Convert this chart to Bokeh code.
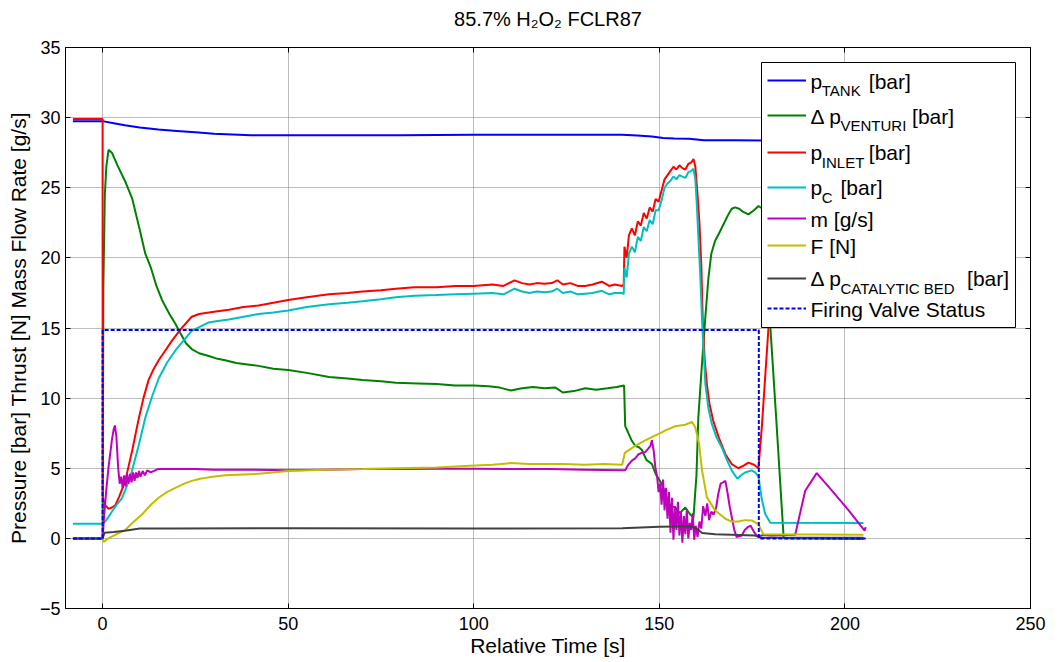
from bokeh.plotting import figure
from bokeh.models import (FixedTicker, Legend, LegendItem, Label, Range1d, LinearAxis,
                          BoxAnnotation, Title)
from bokeh.core.properties import value
from bokeh.embed import file_html
from bokeh.resources import INLINE

FONT = "Liberation Sans"

title_text = "85.7% H\u2082O\u2082 FCLR87"
x_label = "Relative Time [s]"
y_label = "Pressure [bar] Thrust [N] Mass Flow Rate [g/s]"
x_ticks = [0, 50, 100, 150, 200, 250]
y_ticks = [-5, 0, 5, 10, 15, 20, 25, 30, 35]

# ---- p_TANK [bar]
t_tank = [-8, 0, 3, 6, 10, 15, 20, 25, 30, 35, 40, 50, 60, 80, 100, 120, 140, 144,
          148, 151, 154, 158, 162, 170, 180, 205]
p_tank = [29.75, 29.75, 29.6, 29.45, 29.3, 29.15, 29.05, 28.95, 28.85, 28.8, 28.75,
          28.75, 28.75, 28.75, 28.78, 28.78, 28.78, 28.72, 28.65, 28.55, 28.52, 28.5,
          28.38, 28.38, 28.36, 28.35]

# ---- delta p VENTURI [bar]
t_venturi = [-8, 0, 0.2, 0.6, 1.0, 1.6, 2.5, 4, 6, 8,
             10, 11.5, 13, 14.5, 16, 18, 19.6, 21, 22.5, 24,
             26, 28.6, 31, 33, 36, 39, 42, 46, 50, 55,
             61, 66, 70, 75, 79, 85, 90, 95, 100, 104,
             107, 110, 113, 116, 119, 122, 124, 127, 130, 133,
             136, 138.5, 140.5, 140.8, 141.5, 142.5, 143.5, 144.5, 145.3, 146.5,
             148, 149, 150.6, 152, 153, 154.3, 155.5, 157, 158.3, 159.2,
             160.0, 160.5, 161.5, 162.4, 163.2, 164, 165, 166, 167.3, 168.6,
             169.5, 170.4, 171.5, 172.5, 174, 175.5, 176.7, 177.8, 179.9, 181.5,
             183.5, 205]
dp_venturi = [0, 0, 18, 24.5, 26.5, 27.7, 27.5, 26.6, 25.5, 24.2,
              22.0, 20.3, 19.3, 18.0, 17.0, 16.0, 15.3, 14.6, 13.9, 13.5,
              13.2, 13.0, 12.8, 12.7, 12.5, 12.4, 12.3, 12.1, 12.0, 11.8,
              11.5, 11.4, 11.3, 11.2, 11.1, 11.05, 11.0, 10.9, 10.9, 10.85,
              10.75, 10.55, 10.7, 10.8, 10.7, 10.75, 10.4, 10.5, 10.7, 10.6,
              10.7, 10.8, 10.9, 8.0, 7.6, 7.0, 6.6, 6.5, 6.3, 5.6,
              5.3, 4.6, 3.9, 2.9, 2.3, 2.2, 1.8, 2.2, 1.7, 1.5,
              4.5, 8.6, 12.5, 15.8, 18.5, 20.3, 21.2, 21.7, 22.4, 23.1,
              23.5, 23.6, 23.5, 23.3, 23.1, 23.4, 23.7, 23.5, 15.1, 8.5,
              0.0, -0.05]

# ---- p_INLET [bar]
t_inlet = [-8, 0, 0.01, 0.6, 1.6, 2.5, 3.4, 4.5, 6.1, 8,
           9.7, 11, 12.4, 13.8, 15.1, 16.9, 18.7, 21, 24, 26,
           28.6, 31, 34, 38, 42, 46, 50, 55, 61, 66,
           70, 75, 79, 84, 90, 95, 100, 105, 108, 111,
           113, 115, 117, 119, 121, 122.5, 124, 126, 128, 130,
           132, 134.5, 136.5, 138, 140, 140.4,
           140.6, 141.2, 141.8, 142.6, 143.4, 144.2, 145.0, 145.8, 146.6, 147.4,
           148.2, 149.0, 149.8, 150.6, 151.4, 152.2, 153.0, 153.8, 154.6, 155.4,
           156.2, 157.0, 157.8, 158.6, 159.2, 159.7, 160.3, 160.8, 161.3, 161.7,
           162.2, 162.8, 163.5, 164.5, 166, 167.8, 169.5, 171.3, 172.8, 174,
           175.5, 176.7, 177.6, 179.4, 181, 182.8, 185, 205]
p_inlet = [29.9, 29.9, 3.0, 2.4, 2.1, 2.2, 2.35, 3.0, 4.1, 6.3,
           8.5, 10.0, 11.3, 12.1, 12.7, 13.4, 14.1, 14.9, 15.8, 16.0,
           16.1, 16.2, 16.3, 16.5, 16.6, 16.8, 17.0, 17.2, 17.4, 17.5,
           17.6, 17.7, 17.8, 17.9, 17.9, 18.0, 18.0, 18.1, 18.0, 18.4,
           18.2, 18.1, 18.2, 18.15, 18.2, 18.4, 18.1, 18.2, 18.0, 18.0,
           18.1, 18.3, 18.0, 18.1, 18.0, 18.1,
           20.8, 20.0, 21.6, 22.1, 21.6, 22.6, 22.3, 23.2, 22.8, 23.6,
           23.3, 24.2, 24.0, 24.8, 25.6, 25.9, 26.2, 26.5, 26.3, 26.6,
           26.4, 26.3, 26.7, 26.8, 27.05, 26.5, 24.5, 22.5, 19.5, 15.5,
           12.8, 11.0, 9.6, 8.4, 7.2, 6.0, 5.3, 5.0, 5.2, 5.4,
           5.25, 5.0, 7.9, 15.0, 21.5, 28.2, 28.4, 28.4]

# ---- p_C [bar]
t_pc = [-8, 0, 0.7, 1.5, 2.5, 3.8, 5.2, 6.5, 7.9, 9.7,
        11.5, 13.3, 15.1, 17.3, 19.6, 21.8, 24, 26.3, 28.6, 31,
        34, 38, 42, 46, 50, 55, 61, 66, 70, 75,
        79, 84, 90, 95, 100, 105, 108, 111, 113, 115,
        117, 119, 121, 122.5, 124, 126, 128, 130, 132, 134.5,
        136.5, 138, 140, 140.4,
        140.6, 141.2, 141.8, 142.6, 143.4, 144.2, 145.0, 145.8, 146.6, 147.4,
        148.2, 149.0, 149.8, 150.6, 151.4, 152.2, 153.0, 153.8, 154.6, 155.4,
        156.2, 157.0, 157.8, 158.6, 159.2, 159.7, 160.1, 160.6, 161.0, 161.6,
        162.4, 163.2, 164.1, 165.4, 166.8, 168.2, 169.5, 171, 172, 173.1,
        174.9, 175.8, 176.7, 177.6, 178.5, 179.9, 205]
p_c = [1.05, 1.05, 1.2, 1.5, 1.9, 2.4, 2.85, 3.7, 4.8, 6.6,
       8.6, 10.1, 11.4, 12.5, 13.4, 14.1, 14.8, 15.1, 15.4, 15.5,
       15.6, 15.8, 16.0, 16.1, 16.25, 16.5, 16.7, 16.8, 16.9, 17.05,
       17.2, 17.3, 17.35, 17.4, 17.45, 17.5, 17.4, 17.8, 17.6, 17.5,
       17.6, 17.55, 17.6, 17.8, 17.5, 17.6, 17.4, 17.45, 17.5, 17.65,
       17.4, 17.5, 17.5, 17.4,
       19.3, 18.6, 20.3, 20.8, 20.4, 21.5, 21.2, 22.2, 21.9, 22.7,
       22.4, 23.4, 23.4, 24.1, 25.0, 25.3, 25.5, 25.8, 25.6, 25.9,
       25.8, 25.7, 26.1, 26.2, 26.35, 25.6, 23.8, 21.0, 18.9, 15.0,
       11.0, 9.3, 8.2, 7.2, 6.5, 5.6, 4.85, 4.25, 4.5, 4.7,
       4.85, 4.7, 4.4, 2.8, 1.76, 1.12, 1.1]

# ---- m [g/s]
t_m = [-8, 0, 0.3, 1.0, 1.6, 2.5, 3.0, 3.3, 3.7, 4.2,
       4.6, 5.0, 5.4, 5.8, 6.2, 6.6, 7.0, 7.4, 7.8, 8.2,
       8.6, 9.0, 9.4, 9.8, 10.2, 10.8, 11.4, 12, 13, 15,
       20, 25, 30, 40, 50, 60, 70, 80, 90, 100,
       110, 120, 130, 140, 140.8, 141.5, 142.6, 143.5, 144.4, 145.3,
       146.2, 147.0, 147.6, 148.0, 148.5, 148.9, 149.4, 149.8, 150.2, 150.6,
       151.0, 151.4, 151.8, 152.2, 152.6, 153.0, 153.4, 153.8, 154.2, 154.6,
       155.0, 155.4, 155.8, 156.2, 156.6, 157.0, 157.4, 157.8, 158.2, 158.6,
       159.0, 159.4, 159.8, 160.3, 160.8, 161.3, 161.8, 162.4, 162.9, 163.4,
       164.0, 164.6, 165.3, 165.9, 166.5, 167.2, 167.8, 168.4, 169.0, 169.6,
       170.2, 170.8, 171.5, 172.2, 173.0, 173.8, 174.6, 175.4, 176.2, 176.8,
       178, 180, 186.6, 189.3, 192.4, 196.5, 201, 205.3, 205.6]
m_flow = [0, 0, 1.2, 3.5, 5.1, 7.0, 7.8, 8.05, 7.3, 5.0,
          3.9, 4.4, 3.6, 4.5, 3.7, 4.6, 3.9, 4.6, 4.0, 4.7,
          4.1, 4.7, 4.3, 4.8, 4.4, 4.8, 4.5, 4.85, 4.7, 4.95,
          4.95, 4.95, 4.9, 4.9, 4.85, 4.9, 4.95, 4.95, 4.97, 4.97,
          4.95, 4.95, 4.9, 4.85, 4.85, 5.2, 5.55, 5.7, 6.0, 6.1,
          6.15, 6.4, 6.6, 7.0, 6.2, 5.1, 4.4, 3.3, 3.9, 2.4,
          4.2, 2.0, 3.6, 1.4, 3.3, 0.4, 2.9, -0.1, 2.3, 0.6,
          2.6, 0.2, 1.9, -0.3, 1.6, 0.3, 2.0, 0.0, 1.1, 0.6,
          1.8, -0.1, 0.9, 0.1, 1.2, 0.7, 2.3, 1.6, 2.5, 1.3,
          1.9, 1.7, 2.2, 3.2, 3.9, 4.0, 4.1, 3.2, 2.2, 1.4,
          0.6, 0.1, 0.15, 0.2, 0.6, 0.8, 0.9, 0.5, 0.2, 0.15,
          0.25, 0.2, 0.25, 3.4, 4.65, 3.4, 2.0, 0.55, 0.8]

# ---- F [N]
t_f = [-8, 0, 0.3, 1.5, 3, 4.5, 6.1, 8, 10.6, 13,
       15.1, 17.3, 19.6, 22, 24, 26.3, 28.6, 33, 42, 50,
       60, 70, 79, 90, 100.4, 105, 110, 115, 120, 124,
       130, 135, 140, 140.7, 141.7, 143.5, 145.3, 147, 148.9, 150.3,
       151.6, 153, 154.3, 155.6, 157, 158.8, 159.7, 160.7, 161.5, 162.8,
       165, 167.8, 169.5, 171.3, 173, 174.9, 176.7, 178, 205]
thrust = [0, 0, -0.25, 0.0, 0.2, 0.4, 0.6, 1.1, 1.7, 2.4,
          2.9, 3.3, 3.6, 3.9, 4.1, 4.25, 4.35, 4.5, 4.6, 4.8,
          4.9, 4.95, 5.0, 5.05, 5.2, 5.25, 5.37, 5.3, 5.3, 5.3,
          5.25, 5.3, 5.25, 6.1, 6.27, 6.6, 6.87, 7.1, 7.34, 7.5,
          7.7, 7.85, 8.0, 8.05, 8.1, 8.3, 7.9, 6.75, 4.85, 2.94,
          2.0, 1.4, 1.2, 1.2, 1.3, 1.28, 1.0, 0.3, 0.25]

# ---- delta p CATALYTIC BED [bar]
t_cat = [-8, 0, 0.5, 3, 6, 10, 20, 50, 100, 140, 145, 150, 155, 158.8, 160.5,
         161.5, 165, 169.5, 175.8, 177.6, 205]
dp_cat = [0, 0, 0.4, 0.45, 0.55, 0.7, 0.7, 0.72, 0.7, 0.72, 0.78, 0.82, 0.85, 0.86,
          0.6, 0.38, 0.3, 0.26, 0.2, 0.05, 0.05]

# ---- Firing valve status
t_valve = [-8, 0, 0, 176.8, 176.8, 205.6]
valve = [0, 0, 14.85, 14.85, 0, 0]

# legend texts: (main text, subscript, tail)
legend_entries = [
    ("p", "TANK", "[bar]"),
    ("\u0394 p", "VENTURI", "[bar]"),
    ("p", "INLET", "[bar]"),
    ("p", "C", "[bar]"),
    ("m [g/s]", "", ""),
    ("F [N]", "", ""),
    ("\u0394 p", "CATALYTIC BED", "[bar]"),
    ("Firing Valve Status", "", ""),
]

# ---------------- layout constants ----------------
X0, X1, Y0, Y1 = -10, 250, -5, 35
FR_L, FR_T = 65, 47
FR_W, FR_H = 965, 561
FIG_W, FIG_H = 1056, 662
BOX_DX, BOX_DY, BOX_W, BOX_H = 696, 15, 254, 265
ROW_DY = [33, 68.3, 104.7, 139.7, 171.3, 198, 230.7, 261.3]   # sample line centres
GLYPH_DX, GLYPH_W, GLYPH_H = 702, 39, 24
TEXT_DX = 745
SUB_DX = [11.3, 30, 11.3, 11.3, None, None, 30, None]
TAIL_DX = [58.3, 101.6, 58.3, 30, None, None, 156.6, None]

p = figure(width=FIG_W, height=FIG_H,
           x_range=Range1d(X0, X1), y_range=Range1d(Y0, Y1),
           output_backend="svg", toolbar_location=None,
           min_border_left=FR_L, min_border_right=FIG_W - FR_L - FR_W,
           min_border_top=FR_T, min_border_bottom=FIG_H - FR_T - FR_H,
           title=title_text)

p.title.text_font = FONT
p.title.text_font_size = "20px"
p.title.text_font_style = "normal"
p.title.text_color = "black"
p.title.align = "center"
p.title.standoff = 0

p.outline_line_color = "black"
p.outline_line_width = 1
p.background_fill_color = "white"
p.border_fill_color = "white"

p.add_layout(LinearAxis(), "above")
p.add_layout(LinearAxis(), "right")
# blank spacer between the frame and the title (lifts the title)
p.add_layout(Title(text=" ", text_font_size="1px", standoff=15), "above")

for ax in p.axis:
    ax.axis_line_color = "black"
    ax.major_tick_in = 5
    ax.major_tick_out = 0
    ax.minor_tick_line_color = None
    ax.major_tick_line_color = "black"
    ax.major_label_text_font = FONT
    ax.major_label_text_font_size = "18px"
    ax.major_label_text_color = "black"
    ax.axis_label_text_font = FONT
    ax.axis_label_text_font_size = "21px"
    ax.axis_label_text_font_style = "normal"
    ax.axis_label_text_color = "black"

for ax in p.xaxis:
    ax.ticker = FixedTicker(ticks=x_ticks)
for ax in p.yaxis:
    ax.ticker = FixedTicker(ticks=y_ticks)

top_ax = [a for a in p.above if isinstance(a, LinearAxis)][0]
right_ax = p.right[-1]
top_ax.major_label_overrides = {t: "" for t in x_ticks}
right_ax.major_label_overrides = {t: "" for t in y_ticks}
for ax in (top_ax, right_ax):
    ax.major_label_text_font_size = "1px"
    ax.major_label_standoff = 0

bottom_ax, left_ax = p.below[0], p.left[0]
bottom_ax.axis_label = x_label
left_ax.axis_label = y_label
bottom_ax.major_label_standoff = 8
bottom_ax.axis_label_standoff = 1
left_ax.major_label_standoff = 5
left_ax.axis_label_standoff = 7

for g in (p.xgrid[0], p.ygrid[0]):
    g.grid_line_color = "#7a7a7a"
    g.grid_line_dash = "1 1"
    g.grid_line_width = 1

LW = 2
r_tank = p.line(t_tank, p_tank, line_color="#0000ff", line_width=LW)
r_ven = p.line(t_venturi, dp_venturi, line_color="#008000", line_width=LW)
r_inl = p.line(t_inlet, p_inlet, line_color="#ff0000", line_width=LW)
r_pc = p.line(t_pc, p_c, line_color="#00bfbf", line_width=LW)
r_m = p.line(t_m, m_flow, line_color="#bf00bf", line_width=LW)
r_f = p.line(t_f, thrust, line_color="#bfbf00", line_width=LW)
r_cat = p.line(t_cat, dp_cat, line_color="#404040", line_width=LW)
r_val = p.line(t_valve, valve, line_color="#0000ff", line_width=LW, line_dash="4 2")
renderers = [r_tank, r_ven, r_inl, r_pc, r_m, r_f, r_cat, r_val]

SX = (X1 - X0) / FR_W   # data units per pixel, x
SY = (Y1 - Y0) / FR_H   # data units per pixel, y


def put_text(txt, dx, dy, size, align="left"):
    # dx, dy: pixels right / down from the frame's top-left corner
    p.add_layout(Label(x=X0 + dx * SX, y=Y1 - dy * SY,
                       text=txt, text_font=FONT, text_font_size=size,
                       text_baseline="middle", text_align=align,
                       text_color="black"))


# white legend box
p.add_layout(BoxAnnotation(left=X0 + BOX_DX * SX, right=X0 + (BOX_DX + BOX_W) * SX,
                           top=Y1 - BOX_DY * SY, bottom=Y1 - (BOX_DY + BOX_H) * SY,
                           fill_color="white", fill_alpha=1.0,
                           line_color="black", line_width=1, line_alpha=1.0))

# one transparent single-item legend per row (row spacing as in the reference)
for r, dy in zip(renderers, ROW_DY):
    p.add_layout(Legend(
        items=[LegendItem(label=value(" "), renderers=[r])],
        location=(GLYPH_DX, FR_H - dy - GLYPH_H / 2),
        padding=0, spacing=0, margin=0,
        glyph_width=GLYPH_W, glyph_height=GLYPH_H, label_height=GLYPH_H,
        label_width=10, label_standoff=0, label_text_font_size="8px",
        border_line_color=None, background_fill_alpha=0.0,
    ))

for i, (main, sub, tail) in enumerate(legend_entries):
    cy = ROW_DY[i] + 0.5
    put_text(main, TEXT_DX, cy, "21px")
    if sub:
        put_text(sub, TEXT_DX + SUB_DX[i], cy + 9.5, "15px")
    if tail:
        put_text(tail, TEXT_DX + TAIL_DX[i], cy, "21px")

open("out.html", "w").write(file_html(p, INLINE))
